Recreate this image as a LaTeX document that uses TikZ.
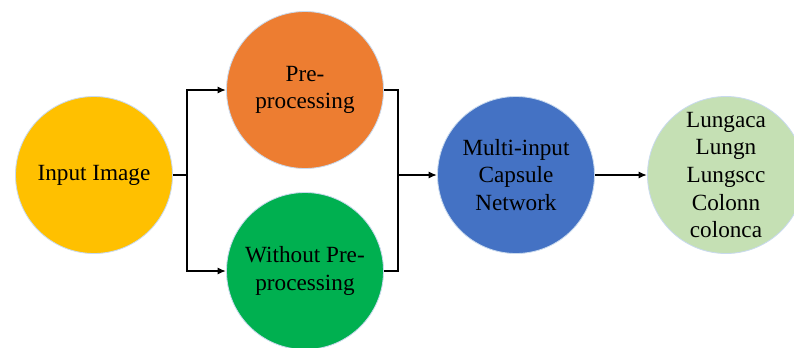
\documentclass[tikz,border=0pt]{standalone}
\usepackage{fontspec}
\setmainfont{Liberation Serif}
\usepackage{xcolor}
\usepackage{tikz}
\usetikzlibrary{arrows.meta}
\pgfdeclarelayer{nodelayer}
\pgfdeclarelayer{edgelayer}
\pgfsetlayers{nodelayer,edgelayer,main}
\definecolor{inyellow}{HTML}{FFC000}
\definecolor{preorange}{HTML}{ED7D31}
\definecolor{rawgreen}{HTML}{00B050}
\definecolor{capsblue}{HTML}{4472C4}
\definecolor{outgreen}{HTML}{C5E0B4}
\definecolor{rimblue}{HTML}{C9DAEE}
\tikzset{
    none/.style = {inner sep=0pt},
    stage/.style = {circle, draw=rimblue, line width=0.6pt, minimum size=3.925cm,
        inner sep=0pt, align=center, font=\fontsize{16.5}{19.7}\selectfont},
    flow/.style = {line width=1.4pt, -{Latex[length=6pt,width=5pt]}}
}

\begin{document}
\begin{tikzpicture}
  \useasboundingbox (0, 0) rectangle (19.85, -8.675);
  \begin{pgfonlayer}{nodelayer}
    \node [stage, fill=inyellow] (0) at (2.35, -4.375) {Input Image};
    \node [stage, fill=preorange] (1) at (7.625, -2.25) {Pre-\\processing};
    \node [stage, fill=rawgreen] (2) at (7.625, -6.775) {Without Pre-\\processing};
    \node [stage, fill=capsblue] (3) at (12.9, -4.375) {Multi-input\\Capsule\\Network};
    \node [stage, fill=outgreen] (4) at (18.15, -4.375) {Lungaca\\Lungn\\Lungscc\\Colonn\\colonca};
    \node [style=none] (5) at (4.675, -4.375) {};
    \node [style=none] (6) at (9.95, -4.375) {};
  \end{pgfonlayer}
  \begin{pgfonlayer}{edgelayer}
    \draw [line width=1.4pt] (0) to (5.center);
    \draw [flow] (5.center) |- (1);
    \draw [flow] (5.center) |- (2);
    \draw [line width=1.4pt] (1) -| (6.center);
    \draw [line width=1.4pt] (2) -| (6.center);
    \draw [flow] (6.center) to (3);
    \draw [flow] (3) to (4);
  \end{pgfonlayer}
\end{tikzpicture}
\end{document}
